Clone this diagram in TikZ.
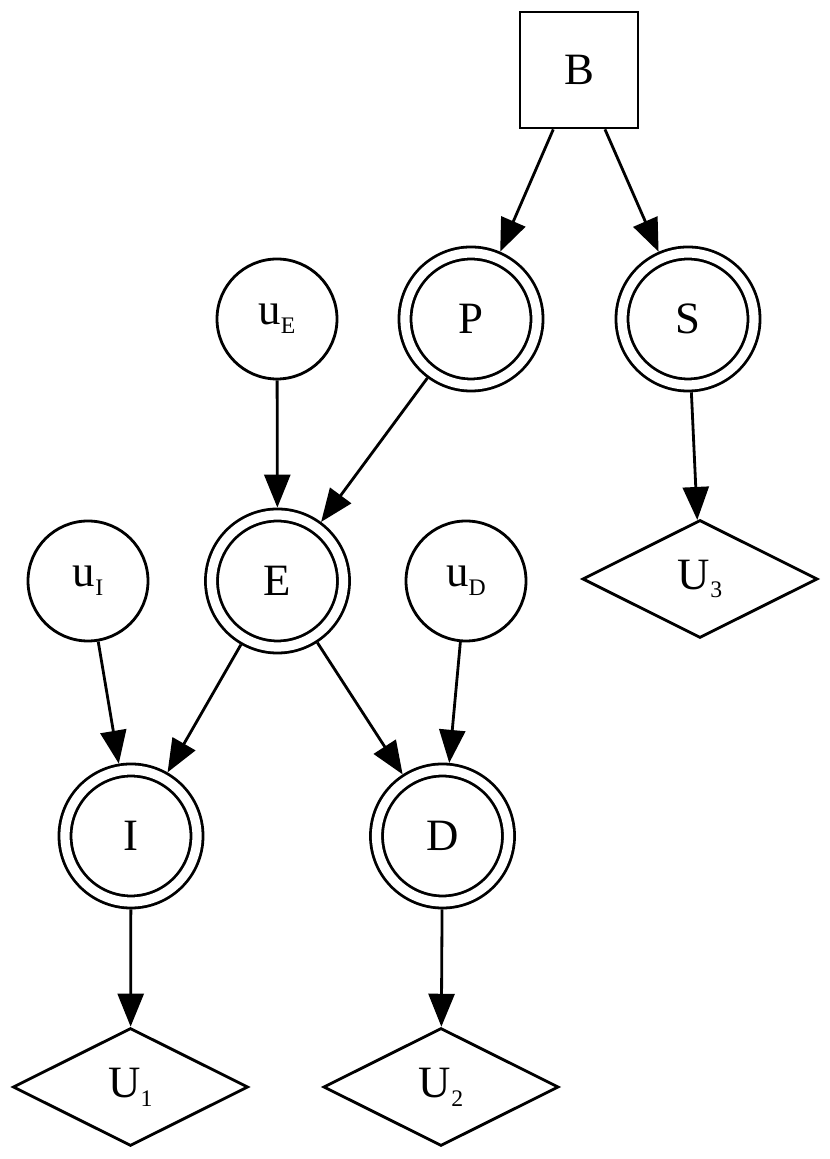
\documentclass[tikz,border=0pt]{standalone}
\usepackage{fontspec}
\setmainfont{Liberation Serif}
\usetikzlibrary{arrows.meta,shapes.geometric}
\newcommand{\lowsub}[1]{{\fontsize{13.5}{13.5}\selectfont\raisebox{-5pt}{#1}}}

\begin{document}
\begin{tikzpicture}[
  font=\fontsize{25.5}{30}\selectfont,
  line width=1.6pt,
  chance/.style={draw, circle, minimum size=2.4cm, inner sep=0pt},
  fixed/.style={draw, circle, double, double distance=0.184cm, minimum size=2.64cm, inner sep=0pt, outer sep=0.148cm},
  decision/.style={draw, minimum width=2.36cm, minimum height=2.32cm, inner sep=0pt},
  utility/.style={draw, diamond, minimum width=4.7cm, minimum height=2.36cm, inner sep=0pt},
  dep/.style={-{Triangle[length=0.66cm, width=0.52cm]}}
]
\useasboundingbox (0,0) rectangle (16.6,23.18);
% top row
\node[decision] (B) at (11.58,21.78) {B};
\node[chance] (uE) at (5.54,16.80) {u\lowsub{E}};
\node[fixed] (P) at (9.42,16.80) {P};
\node[fixed] (S) at (13.76,16.80) {S};
% middle row
\node[chance] (uI) at (1.76,11.56) {u\lowsub{I}};
\node[fixed] (E) at (5.55,11.56) {E};
\node[chance] (uD) at (9.32,11.56) {u\lowsub{D}};
\node[utility] (U3) at (14.00,11.60) {U\lowsub{3}};
% bottom rows
\node[fixed] (I) at (2.62,6.46) {I};
\node[fixed] (D) at (8.85,6.46) {D};
\node[utility] (U1) at (2.61,1.44) {U\lowsub{1}};
\node[utility] (U2) at (8.82,1.44) {U\lowsub{2}};

\draw[dep] (B) -- (P);
\draw[dep] (B) -- (S);
\draw[dep] (uE) -- (E);
\draw[dep] (P) -- (E);
\draw[dep] (S) -- (U3);
\draw[dep] (uI) -- (I);
\draw[dep] (E) -- (I);
\draw[dep] (E) -- (D);
\draw[dep] (uD) -- (D);
\draw[dep] (I) -- (U1);
\draw[dep] (D) -- (U2);
\end{tikzpicture}
\end{document}
